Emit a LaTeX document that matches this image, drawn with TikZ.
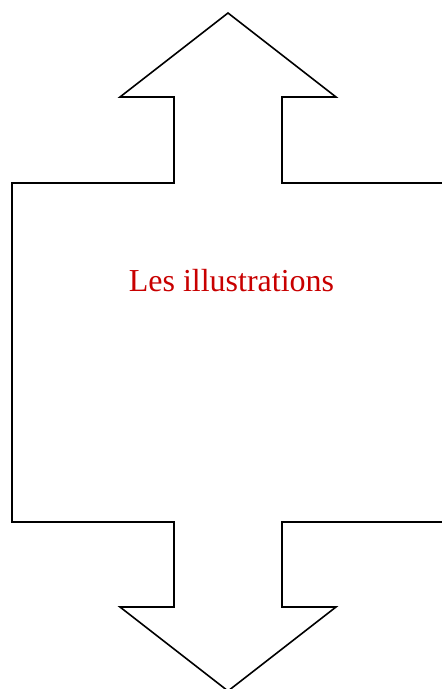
\documentclass[tikz,border=0pt]{standalone}
\usepackage{fontspec}
\setmainfont{Liberation Serif}
\definecolor{txtred}{RGB}{200,0,0}
\tikzset{outline/.style={draw=black,line width=1.6pt,line join=miter}}
\begin{document}
\begin{tikzpicture}[x=1pt,y=-1pt]
\useasboundingbox (0,0) rectangle (442,689);
\coordinate (tt) at (228,13);
\coordinate (bt) at (228,691);
\draw[outline] (tt) -- (336,97) -- (282,97) -- (282,183) -- (444,183) -- (444,522)
  -- (282,522) -- (282,607) -- (336,607) -- (bt) -- (120,607) -- (174,607)
  -- (174,522) -- (12,522) -- (12,183) -- (174,183) -- (174,97) -- (120,97) -- cycle;
\node[text=txtred,font=\fontsize{32}{37}\selectfont,anchor=base] (lbl) at (231.5,291) {Les illustrations};
\end{tikzpicture}
\end{document}
